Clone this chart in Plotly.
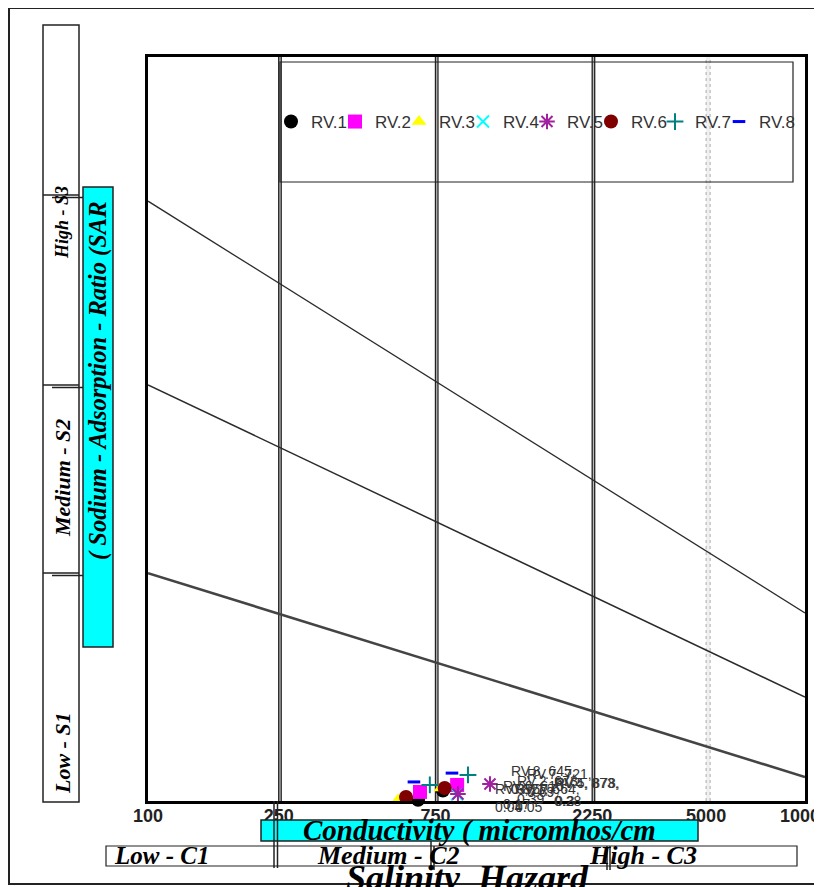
import math
import plotly.graph_objects as go

# ---------------- data ----------------
series_names = ["RV.1", "RV.2", "RV.3", "RV.4", "RV.5", "RV.6", "RV.7", "RV.8"]
ec_values = [
    [664, 790],
    [673, 873],
    [577, 780],
    [873],
    [878, 1099],
    [610, 800],
    [721, 942],
    [645, 842],
]
sar_values = [
    [0.05, 0.45],
    [0.39, 0.69],
    [0.04, 0.56],
    [0.28],
    [0.30, 0.73],
    [0.17, 0.56],
    [0.69, 1.12],
    [0.82, 1.20],
]
symbols = ["circle", "square", "triangle-up", "x-thin-open", "asterisk-open",
           "circle", "cross-thin-open", "line-ew-open"]
colors = ["#000000", "#FF00FF", "#FFFF00", "#00FFFF", "#A020A0",
          "#800000", "#008080", "#0000FF"]
sizes = [14, 14, 13, 12, 13, 14, 12, 9]

# hazard boundary lines (EC ends, SAR at both ends)
boundary_ec = [100, 10000]
boundary_sar = [[9.8, 1.03], [17.9, 4.47], [25.8, 8.09]]
boundary_width = [2.6, 1.5, 1.3]
boundary_color = ["#444444", "#2a2a2a", "#2a2a2a"]

tick_vals = [100, 250, 750, 2250, 5000, 10000]
tick_text = ["100", "250", "750", "2250", "5000", "10000"]
class_bounds = [250, 750, 2250]
dotted_bound = 5000

# ---------------- layout helpers ----------------
# reference pixel positions of the plot area (page offset of 8 px compensated)
L, R, T, B = 148, 805, 57, 801
OFF = 8
W, H = 822, 887


def PX(x):
    return (x - L) / (R - L)


def PY(y):
    return (B - y) / (B - T)


fig = go.Figure()

for bs, bw, bc in zip(boundary_sar, boundary_width, boundary_color):
    fig.add_trace(go.Scatter(x=boundary_ec, y=bs, mode="lines",
                             line=dict(color=bc, width=bw),
                             showlegend=False, hoverinfo="skip"))

for name, ex, sy, sym, col, sz in zip(series_names, ec_values, sar_values,
                                      symbols, colors, sizes):
    marker = dict(symbol=sym, color=col, size=sz)
    if sym.endswith("open"):
        marker["line"] = dict(color=col, width=2 if sym != "line-ew-open" else 3)
    fig.add_trace(go.Scatter(x=ex, y=sy, mode="markers", name=name,
                             marker=marker, cliponaxis=False))

# blank legend spacer so the last legend label keeps its room
fig.add_trace(go.Scatter(x=[None], y=[None], mode="markers", name=" ",
                         marker=dict(color="rgba(0,0,0,0)", size=1),
                         hoverinfo="skip"))

annotations = []
# data labels of the first sample of each series (overlapping, as in the reference)
for name, ex, sy in zip(series_names, ec_values, sar_values):
    e, s = ex[0], sy[0]
    annotations.append(dict(x=math.log10(e), y=s, xref="x", yref="y",
                            text=f"{name}, {e},<br>{s}", showarrow=False,
                            xanchor="left", yanchor="middle", xshift=95,
                            yshift=2, align="left",
                            font=dict(family="Liberation Sans", size=14,
                                      color="#333333")))

serif = "Liberation Serif"


def label(text, x, y, size, angle=0, anchor="center"):
    annotations.append(dict(x=PX(x), y=PY(y), xref="paper", yref="paper",
                            text=f"<b><i>{text}</i></b>", showarrow=False,
                            textangle=angle, xanchor=anchor, yanchor="middle",
                            font=dict(family=serif, size=size, color="#000000")))


label("High - S3", 62, 223, 18, -90)
label("Medium - S2", 62, 478, 22, -90)
label("Low - S1", 62, 753, 22, -90)
label("( Sodium - Adsorption - Ratio (SAR", 98, 381, 24.5, -90)
label("Conductivity ( micromhos/cm", 479, 830, 29)
label("Low - C1", 112, 855, 25, anchor="left")
label("Medium - C2", 388, 855, 26)
label("High - C3", 643, 855, 26)
label("Salinity  Hazard", 467, 878, 36)

shapes = []


def prect(x0, y0, x1, y1, fill="rgba(0,0,0,0)", lc="#222222", lw=1.5):
    shapes.append(dict(type="rect", xref="paper", yref="paper",
                       x0=PX(x0), x1=PX(x1), y0=PY(y1), y1=PY(y0),
                       fillcolor=fill, line=dict(color=lc, width=lw)))


def pline(x0, y0, x1, y1, lc="#222222", lw=1.5):
    shapes.append(dict(type="line", xref="paper", yref="paper",
                       x0=PX(x0), x1=PX(x1), y0=PY(y0), y1=PY(y1),
                       line=dict(color=lc, width=lw)))


# outer frame
prect(9, 8, 840, 884, lc="#222222", lw=2)
# left SAR class box
prect(43, 25, 79, 802)
for yy in (195, 385, 573):
    pline(43, yy, 79, yy)
    pline(52, yy + 2.5, 84, yy + 2.5)
# cyan SAR title box
prect(83, 187, 113, 647, fill="#00FFFF")
# legend frame
prect(280, 62, 793, 182, lw=1.2)
# conductivity cyan box
prect(261, 820, 698, 841, fill="#00FFFF")
# salinity class box
prect(106, 846, 797, 866, lw=1.2)
pline(274, 801, 274, 868)
pline(277.5, 801, 277.5, 868)
pline(431, 841, 431, 870)
pline(434, 846, 434, 870)
pline(607, 846, 607, 870)
pline(610, 846, 610, 870)

# class boundary double lines inside the plot
for xb in class_bounds:
    shapes.append(dict(type="rect", xref="x", yref="paper", xsizemode="pixel",
                       xanchor=xb, x0=-2, x1=2, y0=0, y1=1,
                       fillcolor="#bbbbbb", line=dict(width=0), layer="below"))
    for off in (-2.5, 2.5):
        shapes.append(dict(type="line", xref="x", yref="paper", xsizemode="pixel",
                           xanchor=xb, x0=off, x1=off, y0=0, y1=1,
                           line=dict(color="#222222", width=1.3), layer="below"))
shapes.append(dict(type="rect", xref="x", yref="paper", xsizemode="pixel",
                   xanchor=dotted_bound, x0=-4, x1=4, y0=0, y1=1,
                   fillcolor="#f0f0f0", line=dict(width=0), layer="below"))
for off in (-4, 4):
    shapes.append(dict(type="line", xref="x", yref="paper", xsizemode="pixel",
                       xanchor=dotted_bound, x0=off, x1=off, y0=0, y1=1,
                       line=dict(color="#aaaaaa", width=1, dash="dot"),
                       layer="below"))

fig.update_layout(
    width=W, height=H,
    margin=dict(l=L - OFF, r=W - (R - OFF), t=T - OFF, b=H - (B - OFF),
                pad=0, autoexpand=False),
    paper_bgcolor="white", plot_bgcolor="white",
    xaxis=dict(type="log", range=[2, 4], tickvals=tick_vals,
               ticktext=[f"<b>{t}</b>" for t in tick_text],
               showgrid=False, zeroline=False, ticks="", showline=True,
               mirror=True, linecolor="#000000", linewidth=3,
               ticklabeloverflow="allow", ticklabelstandoff=-4,
               tickfont=dict(family="Liberation Sans", size=18, color="#222222")),
    yaxis=dict(range=[0, 32], showticklabels=False, showgrid=False,
               zeroline=False, ticks="", showline=True, mirror=True,
               linecolor="#000000", linewidth=3),
    legend=dict(orientation="h", x=PX(271), y=PY(122), xanchor="left",
                yanchor="middle", bgcolor="rgba(0,0,0,0)", borderwidth=0,
                font=dict(family="Liberation Sans", size=17, color="#333333"),
                entrywidth=19, entrywidthmode="pixels", itemwidth=30),
    shapes=shapes,
    annotations=annotations,
    showlegend=True,
)

fig.write_html("out.html")
